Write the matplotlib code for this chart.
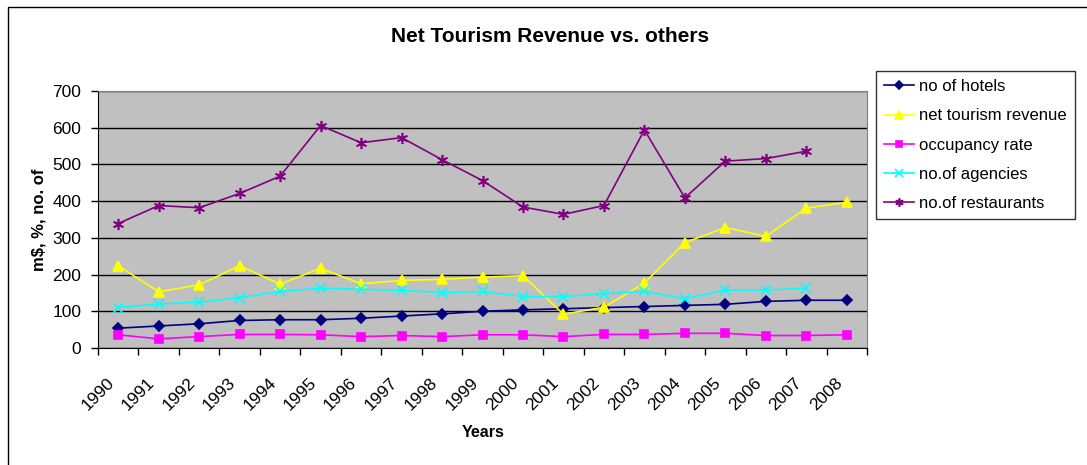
import numpy as np
import matplotlib.pyplot as plt
from matplotlib.patches import Rectangle
from matplotlib.ticker import FixedLocator
import matplotlib.transforms as mtransforms

plt.rcParams['font.family'] = ['Liberation Sans', 'DejaVu Sans']

years = [str(y) for y in range(1990, 2009)]

hotels = [54, 60, 66, 75, 77, 77, 81, 87, 93, 100,
          104, 107, 110, 113, 116, 119, 127, 130, 130]
revenue = [224, 153, 172, 224, 174, 217, 175, 184, 187, 193,
           197, 92, 111, 177, 287, 328, 304, 381, 397]
occupancy = [36, 25, 31, 37, 37, 36, 31, 34, 31, 36,
             36, 31, 37, 37, 40, 40, 34, 34, 36]
agencies = [110, 120, 125, 137, 154, 163, 160, 157, 151, 154,
            140, 140, 148, 154, 134, 158, 158, 163, None]
restaurants = [339, 388, 382, 421, 468, 606, 559, 573, 513, 456,
               384, 364, 388, 594, 409, 509, 516, 536, None]

series = [
    ('no of hotels', hotels, '#000080', 'D', 5.5),
    ('net tourism revenue', revenue, '#FFFF00', '^', 7),
    ('occupancy rate', occupancy, '#FF00FF', 's', 5.5),
    ('no.of agencies', agencies, '#00FFFF', 'x', 7),
    ('no.of restaurants', restaurants, '#800080', (6, 2, 0), 8),
]

fig = plt.figure(figsize=(10.87, 4.65), dpi=100)
W, H = 1087, 465
ax = fig.add_axes([98 / W, 1 - 348 / H, (867 - 98) / W, (348 - 91) / H])

# outer chart-area frame
fig.patches.append(Rectangle((8 / W, -0.1), 1.2, 1 - 6.5 / H + 0.1,
                             transform=fig.transFigure, fill=False,
                             edgecolor='black', linewidth=1, zorder=0))

ax.set_facecolor('#C0C0C0')
x = np.arange(len(years))
for label, vals, color, marker, ms in series:
    v = np.array([np.nan if a is None else a for a in vals], dtype=float)
    ax.plot(x, v, color=color, marker=marker, markersize=ms, linewidth=1.2,
            markeredgecolor=color, markerfacecolor=color, markeredgewidth=1.2,
            label=label, clip_on=False, zorder=3)

ax.set_xlim(-0.5, len(years) - 0.5)
ax.set_ylim(0, 700)
ax.set_yticks(range(0, 701, 100))
ax.yaxis.grid(True, color='black', linewidth=1)
ax.set_axisbelow(True)

ax.set_xticks(x)
ax.tick_params(axis='x', which='major', length=0, pad=6)
ax.xaxis.set_minor_locator(FixedLocator(np.arange(-0.5, len(years), 1)))
ax.tick_params(axis='x', which='minor', length=5, width=1, direction='out')
ax.tick_params(axis='y', length=5, width=1, direction='out', labelsize=12.5, pad=7)

ax.set_xticklabels(years, rotation=45, ha='right', va='top',
                   rotation_mode='anchor', fontsize=12.5)
# push the slanted year labels down and left of their category
offset = mtransforms.ScaledTranslation(-12 / 100, -19 / 100, fig.dpi_scale_trans)
for t in ax.get_xticklabels():
    t.set_transform(t.get_transform() + offset)

for side in ['top', 'right']:
    ax.spines[side].set_color('#808080')
for side in ['left', 'bottom']:
    ax.spines[side].set_color('black')

ax.set_ylabel('m$, %, no. of', fontsize=12, fontweight='bold')
ax.yaxis.set_label_coords((46 - 98) / (867 - 98), 0.5)
fig.text(483 / W, 1 - 432 / H, 'Years', fontsize=11.5, fontweight='bold',
         ha='center', va='center')
fig.text(550 / W, 1 - 36 / H, 'Net Tourism Revenue vs. others', fontsize=15,
         fontweight='bold', ha='center', va='center')

leg = fig.legend(loc='upper left', bbox_to_anchor=(876 / W, 1 - 71 / H),
                 fontsize=12, frameon=True, fancybox=False, borderpad=0.5,
                 handlelength=1.8, handletextpad=0.3, labelspacing=0.85,
                 markerscale=0.75, borderaxespad=0)
leg.get_frame().set_edgecolor('black')
leg.get_frame().set_linewidth(1)

plt.savefig('out.png', dpi=100)
